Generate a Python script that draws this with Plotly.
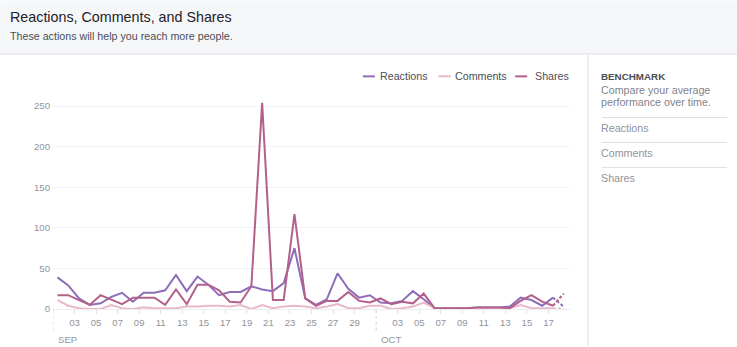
import plotly.graph_objects as go
import pandas as pd

# ---------------- data ----------------
START = "2016-09-01 10:00"
REACTIONS = [39, 29, 13, 5, 7, 15, 20, 9, 20, 20, 23, 42, 22, 40, 30, 17, 21, 21, 28, 24,
             22, 32, 75, 13, 5, 12, 44, 25, 14, 17, 8, 7, 10, 22, 12, 1, 1, 1, 1, 2,
             2, 2, 3, 14, 11, 4, 14, 3]
COMMENTS = [11, 4, 1, 0, 0, 5, 1, 0, 2, 1, 1, 1, 3, 3, 4, 4, 3, 5, 0, 5,
            1, 3, 4, 3, 1, 3, 6, 1, 1, 4, 4, 0, 1, 3, 8, 1, 1, 1, 1, 1,
            1, 1, 1, 5, 1, 1, 1, 0]
SHARES = [17, 17, 11, 5, 17, 11, 6, 14, 14, 14, 5, 24, 6, 30, 30, 23, 9, 8, 28, 254,
          11, 11, 117, 13, 4, 10, 10, 21, 10, 8, 13, 6, 9, 7, 19, 1, 1, 1, 1, 2,
          2, 2, 1, 10, 17, 9, 4, 19]
DATES = pd.date_range(START, periods=len(REACTIONS), freq="D")

SERIES_NAMES = ["Reactions", "Comments", "Shares"]
SERIES_COLORS = ["#8f6db8", "#e8b9ca", "#b3608a"]

TICK_DATES = [f"2016-09-{d:02d}" for d in range(3, 30, 2)] + [f"2016-10-{d:02d}" for d in range(3, 18, 2)]
TICK_TEXT = [d[-2:] for d in TICK_DATES]
MONTH_STARTS = ["2016-09-01", "2016-10-01"]
MONTH_LABELS = ["SEP", "OCT"]
Y_TICKS = [0, 50, 100, 150, 200, 250]

TITLE = "Reactions, Comments, and Shares"
SUBTITLE = "These actions will help you reach more people."
BENCH_TITLE = "BENCHMARK"
BENCH_DESC = ["Compare your average", "performance over time."]

# ---------------- geometry helpers ----------------
W, H = 737, 347
L, R, T, B = 52.7, 569.6, 97.7, 309.3
FONT = "Liberation Sans, Arial, Helvetica, sans-serif"
PAD = 2  # annotation inner padding compensation


def px(x):
    return (x - L) / (R - L)


def py(y):
    return (B - y) / (B - T)


fig = go.Figure()
series = [REACTIONS, COMMENTS, SHARES]
for name, vals, color in zip(SERIES_NAMES, series, SERIES_COLORS):
    fig.add_trace(go.Scatter(x=DATES[:-1], y=vals[:-1], mode="lines", name=name,
                             line=dict(color=color, width=2), showlegend=False))
    fig.add_trace(go.Scatter(x=DATES[-2:], y=vals[-2:], mode="lines", name=name,
                             line=dict(color=color, width=2, dash="3px,2px"), showlegend=False))

shapes = []
annotations = []


def ann(text, x, y, size, color, bold=False, xanchor="left"):
    annotations.append(dict(text=f"<b>{text}</b>" if bold else text, xref="paper", yref="paper",
                            x=px(x - PAD), y=py(y), xanchor=xanchor, yanchor="middle", showarrow=False,
                            font=dict(family=FONT, size=size, color=color)))


def hline(x0, x1, y, color, width=1):
    shapes.append(dict(type="line", xref="paper", yref="paper", x0=px(x0), x1=px(x1),
                       y0=py(y), y1=py(y), line=dict(color=color, width=width)))


# header
shapes.append(dict(type="rect", xref="paper", yref="paper", x0=px(0), x1=px(W), y0=py(0), y1=py(53),
                   fillcolor="#f6f7f9", line=dict(width=0), layer="below"))
hline(0, W, 53.5, "#dddfe2")
ann(TITLE, 9.5, 16.5, 14.3, "#1d2129")
ann(SUBTITLE, 9.5, 35.5, 10.7, "#4b4f56")

# right panel
shapes.append(dict(type="line", xref="paper", yref="paper", x0=px(587.7), x1=px(587.7),
                   y0=py(54), y1=py(H), line=dict(color="#dddfe2", width=1)))
ann(BENCH_TITLE, 601, 75.7, 9.8, "#4b4f56", bold=True)
ann(BENCH_DESC[0], 601, 89.3, 10.7, "#7f8389")
ann(BENCH_DESC[1], 601, 102, 10.7, "#7f8389")
hline(601.5, 726.7, 117.3, "#dddfe2")
ann(SERIES_NAMES[0], 601, 127.7, 10.7, "#90949c")
hline(601.5, 726.7, 142.3, "#dddfe2")
ann(SERIES_NAMES[1], 601, 153.3, 10.7, "#90949c")
hline(601.5, 726.7, 167.3, "#dddfe2")
ann(SERIES_NAMES[2], 601, 178.3, 10.7, "#90949c")

# legend (manual, compact line keys)
legend_pos = [(362.5, 380), (438.3, 455), (514.8, 535)]
for (lx, tx), name, color in zip(legend_pos, SERIES_NAMES, SERIES_COLORS):
    hline(lx, lx + 12, 76, color, width=2)
    ann(name, tx, 76, 10.7, "#4b4f56")

# month boundaries
for d, lab in zip(MONTH_STARTS, MONTH_LABELS):
    shapes.append(dict(type="line", xref="x", yref="paper", x0=d, x1=d, y0=py(310), y1=py(333),
                       line=dict(color="#ccd0d5", width=1, dash="dot")))
    annotations.append(dict(text=lab, xref="x", yref="paper", x=d, y=py(340), xanchor="left",
                            yanchor="middle", xshift=3, showarrow=False,
                            font=dict(family=FONT, size=9.6, color="#90949c")))

fig.update_layout(
    width=W, height=H, autosize=False,
    margin=dict(l=L, r=W - R, t=T, b=H - B, pad=0),
    paper_bgcolor="white", plot_bgcolor="white",
    showlegend=False,
    shapes=shapes, annotations=annotations,
    font=dict(family=FONT),
    xaxis=dict(type="date", range=["2016-09-01", "2016-10-19"], tickvals=TICK_DATES, ticktext=TICK_TEXT,
               ticks="outside", ticklen=4, tickcolor="#dddfe2", showgrid=False, zeroline=False,
               showline=True, linecolor="#ebedf0", tickfont=dict(size=9.6, color="#90949c", family=FONT),
               fixedrange=True),
    yaxis=dict(range=[0, 260], tickvals=Y_TICKS, showgrid=True, gridcolor="#f1f2f4", zeroline=False,
               ticks="", showline=False, tickfont=dict(size=9.6, color="#90949c", family=FONT),
               ticklabelstandoff=2, fixedrange=True),
)

fig.write_html("out.html")
